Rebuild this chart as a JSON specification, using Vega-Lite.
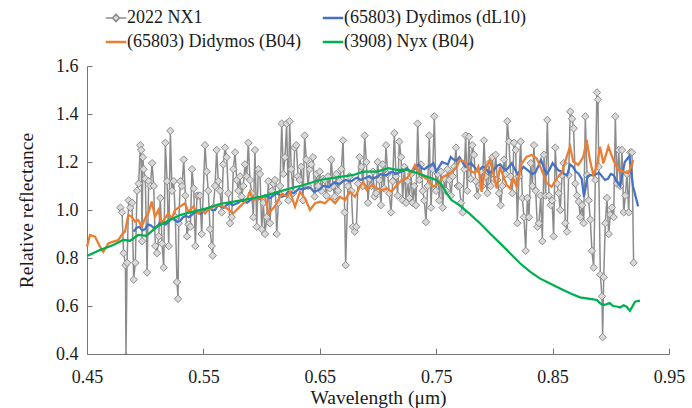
{
  "$schema": "https://vega.github.io/schema/vega-lite/v6.json",
  "width": 582,
  "height": 288,
  "autosize": {"type": "none"},
  "padding": {"left": 87, "top": 66, "right": 23, "bottom": 54},
  "background": "white",
  "config": {
    "font": "Liberation Serif",
    "view": {"stroke": null},
    "axis": {
      "grid": false,
      "domainColor": "#767676",
      "tickColor": "#767676",
      "labelFont": "Liberation Serif",
      "labelFontSize": 18,
      "labelColor": "#1a1a1a",
      "labelFlush": false,
      "titleFont": "Liberation Serif",
      "titleFontSize": 19.5,
      "titleFontWeight": "normal",
      "titleColor": "#1a1a1a"
    }
  },
  "datasets": {
    "nx1": [
      {"w":0.4787,"r":1.01},{"w":0.4801,"r":0.99},{"w":0.4815,"r":0.82},{"w":0.4830,"r":0.77},{"w":0.4835,"r":0.39},{"w":0.4844,"r":0.78},{"w":0.4858,"r":1.04},{"w":0.4873,"r":1.01},{"w":0.4887,"r":1.03},{"w":0.4901,"r":0.71},{"w":0.4915,"r":0.78},{"w":0.4930,"r":1.08},{"w":0.4944,"r":1.11},{"w":0.4958,"r":1.27},{"w":0.4965,"r":1.25},{"w":0.4973,"r":0.87},{"w":0.4980,"r":1.22},{"w":0.4987,"r":1.17},{"w":0.5001,"r":1.13},{"w":0.5016,"r":0.74},{"w":0.5030,"r":1.12},{"w":0.5044,"r":1.10},{"w":0.5059,"r":1.195},{"w":0.5073,"r":1.10},{"w":0.5087,"r":0.85},{"w":0.5102,"r":0.82},{"w":0.5116,"r":0.89},{"w":0.5130,"r":1.05},{"w":0.5145,"r":0.86},{"w":0.5159,"r":0.76},{"w":0.5173,"r":1.28},{"w":0.5188,"r":1.12},{"w":0.5202,"r":0.85},{"w":0.5216,"r":1.33},{"w":0.5230,"r":1.08},{"w":0.5245,"r":1.12},{"w":0.5259,"r":0.97},{"w":0.5273,"r":0.70},{"w":0.5282,"r":0.63},{"w":0.5288,"r":0.945},{"w":0.5302,"r":1.12},{"w":0.5316,"r":1.10},{"w":0.5331,"r":1.21},{"w":0.5345,"r":1.06},{"w":0.5359,"r":0.89},{"w":0.5374,"r":0.94},{"w":0.5388,"r":0.93},{"w":0.5402,"r":1.17},{"w":0.5417,"r":1.09},{"w":0.5431,"r":0.85},{"w":0.5445,"r":1.06},{"w":0.5460,"r":1.06},
      {"w":0.5471,"r":1.06},{"w":0.5485,"r":0.90},{"w":0.5514,"r":1.27},{"w":0.5528,"r":1.16},{"w":0.5542,"r":1.08},{"w":0.5557,"r":0.92},{"w":0.5571,"r":0.85},{"w":0.5580,"r":0.81},{"w":0.5585,"r":1.01},{"w":0.5600,"r":1.10},{"w":0.5614,"r":1.25},{"w":0.5628,"r":1.12},{"w":0.5643,"r":1.08},{"w":0.5657,"r":0.99},{"w":0.5671,"r":1.19},{"w":0.5686,"r":1.26},{"w":0.5700,"r":1.22},{"w":0.5714,"r":1.07},{"w":0.5729,"r":0.945},{"w":0.5743,"r":0.97},{"w":0.5757,"r":1.17},{"w":0.5772,"r":1.24},{"w":0.5786,"r":1.125},{"w":0.5800,"r":1.08},{"w":0.5814,"r":1.14},{"w":0.5829,"r":1.056},{"w":0.5843,"r":1.10},{"w":0.5857,"r":1.19},{"w":0.5872,"r":1.14},{"w":0.5886,"r":1.28},{"w":0.5900,"r":1.125},{"w":0.5915,"r":1.07},{"w":0.5929,"r":0.97},{"w":0.5943,"r":1.25},{"w":0.5958,"r":0.93},{"w":0.5972,"r":1.17},{"w":0.5986,"r":1.15},{"w":0.6001,"r":0.92},{"w":0.6015,"r":1.03},{"w":0.6029,"r":0.90},{"w":0.6044,"r":0.97},{"w":0.6058,"r":1.12},{"w":0.6072,"r":0.945},{"w":0.6087,"r":1.08},{"w":0.6101,"r":1.11},{"w":0.6115,"r":1.125},{"w":0.6130,"r":0.90},{"w":0.6144,"r":1.03},{"w":0.6158,"r":1.10},{"w":0.6173,"r":1.36},{"w":0.6187,"r":1.15},{"w":0.6201,"r":1.22},{"w":0.6215,"r":1.36},{"w":0.6230,"r":1.04},
      {"w":0.6241,"r":1.37},{"w":0.6255,"r":1.17},{"w":0.6270,"r":1.07},{"w":0.6284,"r":1.26},{"w":0.6298,"r":1.27},{"w":0.6313,"r":1.14},{"w":0.6327,"r":1.125},{"w":0.6341,"r":1.18},{"w":0.6356,"r":1.04},{"w":0.6370,"r":1.31},{"w":0.6384,"r":1.21},{"w":0.6399,"r":1.10},{"w":0.6413,"r":1.17},{"w":0.6427,"r":1.19},{"w":0.6442,"r":1.22},{"w":0.6456,"r":1.056},{"w":0.6470,"r":1.15},{"w":0.6485,"r":1.10},{"w":0.6499,"r":1.16},{"w":0.6513,"r":1.08},{"w":0.6528,"r":1.13},{"w":0.6542,"r":1.125},{"w":0.6556,"r":1.06},{"w":0.6571,"r":1.14},{"w":0.6585,"r":1.09},{"w":0.6599,"r":1.21},{"w":0.6614,"r":1.10},{"w":0.6628,"r":1.056},{"w":0.6642,"r":1.15},{"w":0.6657,"r":1.08},{"w":0.6671,"r":1.12},{"w":0.6685,"r":1.17},{"w":0.6700,"r":1.29},{"w":0.6714,"r":0.99},{"w":0.6722,"r":0.77},{"w":0.6742,"r":1.10},{"w":0.6757,"r":1.14},{"w":0.6771,"r":1.08},{"w":0.6785,"r":0.93},{"w":0.6800,"r":0.91},{"w":0.6814,"r":0.93},{"w":0.6828,"r":1.11},{"w":0.6842,"r":1.22},{"w":0.6857,"r":1.18},{"w":0.6871,"r":1.10},{"w":0.6886,"r":1.31},{"w":0.6900,"r":1.20},{"w":0.6914,"r":1.03},{"w":0.6928,"r":1.13},{"w":0.6943,"r":1.10},{"w":0.6957,"r":1.16},{"w":0.6971,"r":1.056},
      {"w":0.6983,"r":1.07},{"w":0.6997,"r":1.20},{"w":0.7011,"r":1.125},{"w":0.7025,"r":1.02},{"w":0.7040,"r":1.19},{"w":0.7054,"r":1.09},{"w":0.7069,"r":1.27},{"w":0.7083,"r":1.15},{"w":0.7097,"r":1.07},{"w":0.7112,"r":0.99},{"w":0.7126,"r":1.12},{"w":0.7140,"r":1.32},{"w":0.7155,"r":1.14},{"w":0.7169,"r":1.06},{"w":0.7183,"r":1.285},{"w":0.7198,"r":1.22},{"w":0.7212,"r":1.04},{"w":0.7227,"r":1.18},{"w":0.7241,"r":1.03},{"w":0.7255,"r":1.12},{"w":0.7269,"r":1.05},{"w":0.7284,"r":1.15},{"w":0.7298,"r":1.03},{"w":0.7312,"r":1.10},{"w":0.7326,"r":1.02},{"w":0.7341,"r":1.36},{"w":0.7355,"r":1.125},{"w":0.7370,"r":1.19},{"w":0.7384,"r":1.08},{"w":0.7398,"r":1.04},{"w":0.7412,"r":0.95},{"w":0.7427,"r":1.10},{"w":0.7441,"r":1.31},{"w":0.7455,"r":1.01},{"w":0.7470,"r":1.17},{"w":0.7484,"r":1.39},{"w":0.7498,"r":1.08},{"w":0.7513,"r":1.15},{"w":0.7527,"r":1.04},{"w":0.7541,"r":1.16},{"w":0.7556,"r":1.01},{"w":0.7570,"r":1.13},{"w":0.7584,"r":1.08},{"w":0.7598,"r":1.17},{"w":0.7613,"r":1.125},{"w":0.7627,"r":1.06},{"w":0.7642,"r":1.14},{"w":0.7656,"r":1.18},{"w":0.7670,"r":1.26},{"w":0.7685,"r":1.10},{"w":0.7699,"r":1.10},{"w":0.7713,"r":1.03},{"w":0.7727,"r":0.99},{"w":0.7742,"r":1.17},{"w":0.7753,"r":1.31},
      {"w":0.7767,"r":1.08},{"w":0.7782,"r":1.305},{"w":0.7796,"r":1.13},{"w":0.7810,"r":1.27},{"w":0.7825,"r":1.23},{"w":0.7839,"r":1.12},{"w":0.7853,"r":1.06},{"w":0.7868,"r":1.10},{"w":0.7882,"r":1.16},{"w":0.7896,"r":1.10},{"w":0.7911,"r":1.29},{"w":0.7925,"r":1.14},{"w":0.7940,"r":1.07},{"w":0.7954,"r":1.195},{"w":0.7968,"r":1.10},{"w":0.7982,"r":1.22},{"w":0.7997,"r":1.13},{"w":0.8011,"r":1.23},{"w":0.8025,"r":1.125},{"w":0.8040,"r":1.07},{"w":0.8054,"r":1.02},{"w":0.8068,"r":1.10},{"w":0.8082,"r":1.21},{"w":0.8097,"r":1.15},{"w":0.8111,"r":1.37},{"w":0.8125,"r":1.285},{"w":0.8140,"r":1.14},{"w":0.8154,"r":1.07},{"w":0.8168,"r":1.28},{"w":0.8183,"r":1.25},{"w":0.8197,"r":0.945},{"w":0.8211,"r":1.14},{"w":0.8226,"r":1.285},{"w":0.8240,"r":1.05},{"w":0.8254,"r":0.97},{"w":0.8269,"r":0.83},{"w":0.8283,"r":1.05},{"w":0.8297,"r":0.97},{"w":0.8312,"r":1.195},{"w":0.8326,"r":1.10},{"w":0.8340,"r":1.27},{"w":0.8355,"r":1.08},{"w":0.8369,"r":0.93},{"w":0.8383,"r":0.945},{"w":0.8398,"r":1.06},{"w":0.8412,"r":0.87},{"w":0.8426,"r":1.23},{"w":0.8440,"r":1.06},{"w":0.8455,"r":1.375},{"w":0.8469,"r":1.06},{"w":0.8484,"r":1.02},
      {"w":0.8495,"r":1.04},{"w":0.8509,"r":0.89},{"w":0.8523,"r":1.26},{"w":0.8538,"r":1.11},{"w":0.8552,"r":1.07},{"w":0.8566,"r":1.00},{"w":0.8581,"r":1.145},{"w":0.8595,"r":1.195},{"w":0.8609,"r":0.945},{"w":0.8624,"r":0.91},{"w":0.8638,"r":1.145},{"w":0.8652,"r":1.41},{"w":0.8667,"r":1.38},{"w":0.8681,"r":1.34},{"w":0.8695,"r":1.11},{"w":0.8710,"r":1.06},{"w":0.8724,"r":1.035},{"w":0.8738,"r":0.97},{"w":0.8753,"r":1.02},{"w":0.8767,"r":0.945},{"w":0.8781,"r":1.39},{"w":0.8796,"r":1.145},{"w":0.8810,"r":1.04},{"w":0.8824,"r":0.96},{"w":0.8838,"r":0.83},{"w":0.8853,"r":0.76},{"w":0.8867,"r":1.125},{"w":0.8881,"r":1.49},{"w":0.8890,"r":1.46},{"w":0.8896,"r":1.18},{"w":0.8910,"r":0.73},{"w":0.8924,"r":0.64},{"w":0.8930,"r":0.47},{"w":0.8939,"r":0.72},{"w":0.8953,"r":0.945},{"w":0.8967,"r":1.05},{"w":0.8982,"r":0.90},{"w":0.8996,"r":0.98},{"w":0.9010,"r":1.01},{"w":0.9025,"r":0.97},{"w":0.9039,"r":1.39},{"w":0.9053,"r":1.11},{"w":0.9068,"r":1.25},{"w":0.9082,"r":1.10},{"w":0.9096,"r":1.25},{"w":0.9111,"r":0.99},{"w":0.9125,"r":1.06},{"w":0.9139,"r":1.15},{"w":0.9154,"r":0.99},{"w":0.9168,"r":1.24},{"w":0.9182,"r":1.24},{"w":0.9196,"r":0.78}
    ],
    "dl10": [
      {"w":0.490,"r":0.91},{"w":0.4925,"r":0.925},{"w":0.495,"r":0.93},{"w":0.4975,"r":0.915},{"w":0.500,"r":0.92},{"w":0.5025,"r":0.94},{"w":0.505,"r":0.935},{"w":0.5075,"r":0.925},{"w":0.510,"r":0.93},{"w":0.5125,"r":0.945},{"w":0.515,"r":0.945},{"w":0.5175,"r":0.94},{"w":0.520,"r":0.95},{"w":0.5225,"r":0.965},{"w":0.525,"r":0.96},{"w":0.5275,"r":0.95},{"w":0.530,"r":0.955},{"w":0.5325,"r":0.97},{"w":0.535,"r":0.975},{"w":0.5375,"r":0.97},{"w":0.540,"r":0.98},{"w":0.5425,"r":0.99},{"w":0.545,"r":0.99},{"w":0.5475,"r":0.985},{"w":0.550,"r":0.995},{"w":0.5525,"r":1.005},{"w":0.555,"r":1.01},{"w":0.5575,"r":1.0},{"w":0.560,"r":1.0},{"w":0.5625,"r":1.02},{"w":0.565,"r":1.015},{"w":0.5675,"r":1.01},{"w":0.570,"r":1.02},{"w":0.5725,"r":1.03},{"w":0.575,"r":1.02},{"w":0.5775,"r":1.025},{"w":0.580,"r":1.03},{"w":0.5825,"r":1.04},{"w":0.585,"r":1.035},{"w":0.5875,"r":1.03},{"w":0.590,"r":1.04},{"w":0.5925,"r":1.05},{"w":0.595,"r":1.05},{"w":0.5975,"r":1.045},{"w":0.600,"r":1.05},{"w":0.6025,"r":1.06},{"w":0.605,"r":1.055},{"w":0.6075,"r":1.05},{"w":0.610,"r":1.06},{"w":0.6125,"r":1.07},{"w":0.615,"r":1.065},{"w":0.6175,"r":1.055},{"w":0.620,"r":1.06},{"w":0.6225,"r":1.075},{"w":0.625,"r":1.075},{"w":0.6275,"r":1.07},{"w":0.630,"r":1.08},{"w":0.6325,"r":1.09},{"w":0.635,"r":1.085},{"w":0.6375,"r":1.09},{"w":0.640,"r":1.095},{"w":0.6425,"r":1.09},{"w":0.645,"r":1.075},{"w":0.6475,"r":1.08},{"w":0.650,"r":1.085},{"w":0.6525,"r":1.1},{"w":0.655,"r":1.10},{"w":0.6575,"r":1.095},{"w":0.660,"r":1.105},{"w":0.6625,"r":1.115},{"w":0.665,"r":1.11},{"w":0.6675,"r":1.11},{"w":0.670,"r":1.12},{"w":0.6725,"r":1.125},{"w":0.675,"r":1.12},{"w":0.6775,"r":1.12},{"w":0.680,"r":1.13},{"w":0.6825,"r":1.135},{"w":0.685,"r":1.125},{"w":0.6875,"r":1.13},{"w":0.690,"r":1.135},{"w":0.6925,"r":1.14},{"w":0.695,"r":1.13},{"w":0.6975,"r":1.135},{"w":0.700,"r":1.14},{"w":0.7025,"r":1.15},{"w":0.705,"r":1.145},{"w":0.7075,"r":1.145},{"w":0.710,"r":1.155},{"w":0.7125,"r":1.16},{"w":0.715,"r":1.15},{"w":0.7175,"r":1.155},{"w":0.720,"r":1.16},{"w":0.7225,"r":1.165},{"w":0.725,"r":1.175},{"w":0.7275,"r":1.16},{"w":0.730,"r":1.165},{"w":0.7325,"r":1.175},{"w":0.735,"r":1.19},{"w":0.7375,"r":1.175},{"w":0.740,"r":1.17},{"w":0.7425,"r":1.18},{"w":0.745,"r":1.185},{"w":0.7475,"r":1.195},{"w":0.750,"r":1.16},{"w":0.7525,"r":1.18},{"w":0.755,"r":1.20},{"w":0.7575,"r":1.195},{"w":0.760,"r":1.19},{"w":0.7625,"r":1.22},{"w":0.765,"r":1.21},{"w":0.7675,"r":1.205},{"w":0.770,"r":1.22},{"w":0.7725,"r":1.20},{"w":0.775,"r":1.18},{"w":0.7775,"r":1.19},{"w":0.780,"r":1.195},{"w":0.7825,"r":1.18},{"w":0.785,"r":1.165},{"w":0.7875,"r":1.17},{"w":0.790,"r":1.18},{"w":0.7925,"r":1.175},{"w":0.795,"r":1.155},{"w":0.7975,"r":1.16},{"w":0.800,"r":1.17},{"w":0.8025,"r":1.185},{"w":0.805,"r":1.19},{"w":0.8075,"r":1.175},{"w":0.810,"r":1.165},{"w":0.8125,"r":1.18},{"w":0.815,"r":1.195},{"w":0.8175,"r":1.17},{"w":0.820,"r":1.15},{"w":0.8225,"r":1.165},{"w":0.825,"r":1.18},{"w":0.8275,"r":1.17},{"w":0.830,"r":1.16},{"w":0.8325,"r":1.15},{"w":0.835,"r":1.155},{"w":0.8375,"r":1.18},{"w":0.840,"r":1.21},{"w":0.8425,"r":1.175},{"w":0.845,"r":1.15},{"w":0.8475,"r":1.17},{"w":0.850,"r":1.195},{"w":0.8525,"r":1.18},{"w":0.855,"r":1.165},{"w":0.8575,"r":1.16},{"w":0.860,"r":1.15},{"w":0.8625,"r":1.145},{"w":0.865,"r":1.19},{"w":0.8675,"r":1.18},{"w":0.870,"r":1.16},{"w":0.8725,"r":1.15},{"w":0.875,"r":1.13},{"w":0.877,"r":1.055},{"w":0.880,"r":1.14},{"w":0.8825,"r":1.145},{"w":0.885,"r":1.145},{"w":0.8875,"r":1.15},{"w":0.890,"r":1.155},{"w":0.8925,"r":1.14},{"w":0.895,"r":1.125},{"w":0.8975,"r":1.13},{"w":0.900,"r":1.15},{"w":0.9025,"r":1.145},{"w":0.905,"r":1.12},{"w":0.908,"r":1.10},{"w":0.912,"r":1.20},{"w":0.916,"r":1.225},{"w":0.919,"r":1.10},{"w":0.9235,"r":1.015}
    ],
    "b04": [
      {"w":0.450,"r":0.847},{"w":0.4526,"r":0.896},{"w":0.4569,"r":0.889},{"w":0.4612,"r":0.847},{"w":0.464,"r":0.826},{"w":0.4683,"r":0.861},{"w":0.4726,"r":0.868},{"w":0.4769,"r":0.875},{"w":0.4798,"r":0.896},{"w":0.4826,"r":0.910},{"w":0.4855,"r":0.979},{"w":0.4884,"r":0.972},{"w":0.4912,"r":0.951},{"w":0.494,"r":0.958},{"w":0.497,"r":0.930},{"w":0.4998,"r":0.965},{"w":0.5027,"r":0.986},{"w":0.5056,"r":1.035},{"w":0.5084,"r":0.972},{"w":0.5113,"r":1.0},{"w":0.5142,"r":0.945},{"w":0.517,"r":0.965},{"w":0.5198,"r":0.986},{"w":0.5228,"r":0.965},{"w":0.5256,"r":1.0},{"w":0.5299,"r":1.014},{"w":0.5342,"r":1.028},{"w":0.537,"r":0.993},{"w":0.5413,"r":1.014},{"w":0.5456,"r":0.986},{"w":0.5485,"r":1.0},{"w":0.5514,"r":0.986},{"w":0.5542,"r":1.0},{"w":0.5585,"r":1.014},{"w":0.5643,"r":1.021},{"w":0.570,"r":1.007},{"w":0.5757,"r":0.986},{"w":0.5814,"r":1.014},{"w":0.5872,"r":1.042},{"w":0.590,"r":1.076},{"w":0.5929,"r":1.042},{"w":0.5986,"r":1.049},{"w":0.6029,"r":1.055},{"w":0.6058,"r":0.986},{"w":0.610,"r":1.007},{"w":0.613,"r":1.028},{"w":0.6173,"r":1.069},{"w":0.6216,"r":1.055},{"w":0.6244,"r":1.076},{"w":0.6287,"r":1.014},{"w":0.633,"r":1.076},{"w":0.6373,"r":1.049},{"w":0.6416,"r":1.0},{"w":0.6459,"r":1.028},{"w":0.6502,"r":1.035},{"w":0.6545,"r":1.028},{"w":0.6588,"r":1.049},{"w":0.6631,"r":1.028},{"w":0.6674,"r":1.055},{"w":0.6717,"r":1.042},{"w":0.676,"r":1.076},{"w":0.6802,"r":1.055},{"w":0.6845,"r":1.097},{"w":0.6874,"r":1.118},{"w":0.6903,"r":1.083},{"w":0.6946,"r":1.104},{"w":0.6989,"r":1.090},{"w":0.7032,"r":1.083},{"w":0.7075,"r":1.090},{"w":0.7118,"r":1.076},{"w":0.7161,"r":1.104},{"w":0.7204,"r":1.125},{"w":0.7247,"r":1.132},{"w":0.729,"r":1.160},{"w":0.7318,"r":1.1875},{"w":0.7346,"r":1.160},{"w":0.7389,"r":1.139},{"w":0.7432,"r":1.125},{"w":0.7475,"r":1.097},{"w":0.7518,"r":1.111},{"w":0.7561,"r":1.139},{"w":0.7619,"r":1.153},{"w":0.7676,"r":1.180},{"w":0.7705,"r":1.21},{"w":0.7748,"r":1.20},{"w":0.779,"r":1.165},{"w":0.7833,"r":1.153},{"w":0.7862,"r":1.180},{"w":0.789,"r":1.076},{"w":0.7919,"r":1.167},{"w":0.7962,"r":1.208},{"w":0.799,"r":1.153},{"w":0.802,"r":1.090},{"w":0.8048,"r":1.180},{"w":0.8077,"r":1.139},{"w":0.8106,"r":1.104},{"w":0.8134,"r":1.090},{"w":0.8162,"r":1.132},{"w":0.8191,"r":1.097},{"w":0.8234,"r":1.194},{"w":0.8278,"r":1.222},{"w":0.832,"r":1.229},{"w":0.8363,"r":1.215},{"w":0.8406,"r":1.167},{"w":0.845,"r":1.111},{"w":0.8492,"r":1.097},{"w":0.8535,"r":1.132},{"w":0.8578,"r":1.153},{"w":0.8621,"r":1.222},{"w":0.865,"r":1.264},{"w":0.8678,"r":1.201},{"w":0.8721,"r":1.1875},{"w":0.8764,"r":1.222},{"w":0.8793,"r":1.292},{"w":0.8821,"r":1.208},{"w":0.885,"r":1.146},{"w":0.8879,"r":1.180},{"w":0.8907,"r":1.264},{"w":0.8936,"r":1.194},{"w":0.8979,"r":1.264},{"w":0.9022,"r":1.208},{"w":0.9064,"r":1.167},{"w":0.9107,"r":1.160},{"w":0.915,"r":1.153},{"w":0.9179,"r":1.1875},{"w":0.9193,"r":1.208}
    ],
    "nyx": [
      {"w":0.450,"r":0.808},{"w":0.461,"r":0.833},{"w":0.4726,"r":0.854},{"w":0.481,"r":0.875},{"w":0.487,"r":0.872},{"w":0.494,"r":0.896},{"w":0.501,"r":0.892},{"w":0.510,"r":0.930},{"w":0.518,"r":0.951},{"w":0.530,"r":0.979},{"w":0.541,"r":0.993},{"w":0.553,"r":1.007},{"w":0.564,"r":1.025},{"w":0.576,"r":1.035},{"w":0.587,"r":1.044},{"w":0.599,"r":1.055},{"w":0.610,"r":1.069},{"w":0.6216,"r":1.086},{"w":0.636,"r":1.104},{"w":0.650,"r":1.125},{"w":0.6645,"r":1.136},{"w":0.679,"r":1.146},{"w":0.687,"r":1.160},{"w":0.699,"r":1.160},{"w":0.709,"r":1.174},{"w":0.716,"r":1.167},{"w":0.7247,"r":1.167},{"w":0.733,"r":1.155},{"w":0.742,"r":1.139},{"w":0.750,"r":1.125},{"w":0.7547,"r":1.104},{"w":0.759,"r":1.069},{"w":0.763,"r":1.042},{"w":0.7705,"r":1.018},{"w":0.779,"r":0.983},{"w":0.7876,"r":0.945},{"w":0.796,"r":0.903},{"w":0.805,"r":0.861},{"w":0.8134,"r":0.820},{"w":0.822,"r":0.778},{"w":0.8306,"r":0.743},{"w":0.839,"r":0.715},{"w":0.8478,"r":0.694},{"w":0.856,"r":0.674},{"w":0.865,"r":0.653},{"w":0.8735,"r":0.636},{"w":0.885,"r":0.628},{"w":0.888,"r":0.625},{"w":0.891,"r":0.61},{"w":0.8935,"r":0.604},{"w":0.896,"r":0.607},{"w":0.899,"r":0.612},{"w":0.902,"r":0.600},{"w":0.905,"r":0.598},{"w":0.908,"r":0.594},{"w":0.911,"r":0.603},{"w":0.9136,"r":0.597},{"w":0.9165,"r":0.580},{"w":0.9208,"r":0.618},{"w":0.925,"r":0.622}
    ]
  },
  "layer": [
    {
      "data": {"name": "nx1"},
      "mark": {"type": "line", "strokeWidth": 1.5, "clip": true},
      "encoding": {
        "x": {"field": "w", "type": "quantitative", "scale": {"domain": [0.45, 0.95], "nice": false, "zero": false},
          "axis": {"values": [0.45, 0.55, 0.65, 0.75, 0.85, 0.95], "format": ".2f", "title": "Wavelength (μm)", "tickSize": -6, "labelPadding": 20, "titlePadding": 2}},
        "y": {"field": "r", "type": "quantitative", "scale": {"domain": [0.4, 1.6], "nice": false, "zero": false},
          "axis": {"values": [0.4, 0.6, 0.8, 1.0, 1.2, 1.4, 1.6], "format": ".1f", "title": "Relative reflectance", "tickSize": -5, "labelPadding": 14, "titlePadding": 19}},
        "color": {"datum": "2022 NX1", "type": "nominal",
          "scale": {"domain": ["2022 NX1", "(65803) Dydimos (dL10)", "(65803) Didymos (B04)", "(3908) Nyx (B04)"], "range": ["#8c8c8c", "#4472C4", "#ED7D31", "#00B050"]},
          "legend": {
            "title": null, "orient": "none", "legendX": 20, "legendY": -57, "columns": 2, "direction": "horizontal",
            "symbolSize": 420, "symbolStrokeWidth": 2.5, "labelFont": "Liberation Serif", "labelFontSize": 18, "labelColor": "#1a1a1a", "labelLimit": 0,
            "columnPadding": 16, "rowPadding": 6, "labelOffset": 2, "padding": 0,
            "encode": {"symbols": {"update": {
              "shape": {"signal": "datum.value === '2022 NX1' ? 'M-1,0L-0.35,0M0.35,0L1,0M-0.35,0L0,-0.35L0.35,0L0,0.35Z' : 'stroke'"},
              "fill": {"signal": "datum.value === '2022 NX1' ? '#d9d9d9' : 'transparent'"},
              "strokeWidth": {"signal": "datum.value === '2022 NX1' ? 1.5 : 2.5"}
            }}}
          }}
      }
    },
    {
      "data": {"name": "nx1"},
      "mark": {"type": "point", "shape": "diamond", "filled": true, "fill": "#d9d9d9", "stroke": "#8c8c8c", "strokeWidth": 1, "size": 55, "opacity": 1, "clip": true},
      "encoding": {
        "x": {"field": "w", "type": "quantitative"},
        "y": {"field": "r", "type": "quantitative"}
      }
    },
    {
      "data": {"name": "dl10"},
      "mark": {"type": "line", "strokeWidth": 2.25},
      "encoding": {
        "x": {"field": "w", "type": "quantitative"},
        "y": {"field": "r", "type": "quantitative"},
        "color": {"datum": "(65803) Dydimos (dL10)", "type": "nominal"}
      }
    },
    {
      "data": {"name": "b04"},
      "mark": {"type": "line", "strokeWidth": 2.25},
      "encoding": {
        "x": {"field": "w", "type": "quantitative"},
        "y": {"field": "r", "type": "quantitative"},
        "color": {"datum": "(65803) Didymos (B04)", "type": "nominal"}
      }
    },
    {
      "data": {"name": "nyx"},
      "mark": {"type": "line", "strokeWidth": 2.25},
      "encoding": {
        "x": {"field": "w", "type": "quantitative"},
        "y": {"field": "r", "type": "quantitative"},
        "color": {"datum": "(3908) Nyx (B04)", "type": "nominal"}
      }
    }
  ]
}
